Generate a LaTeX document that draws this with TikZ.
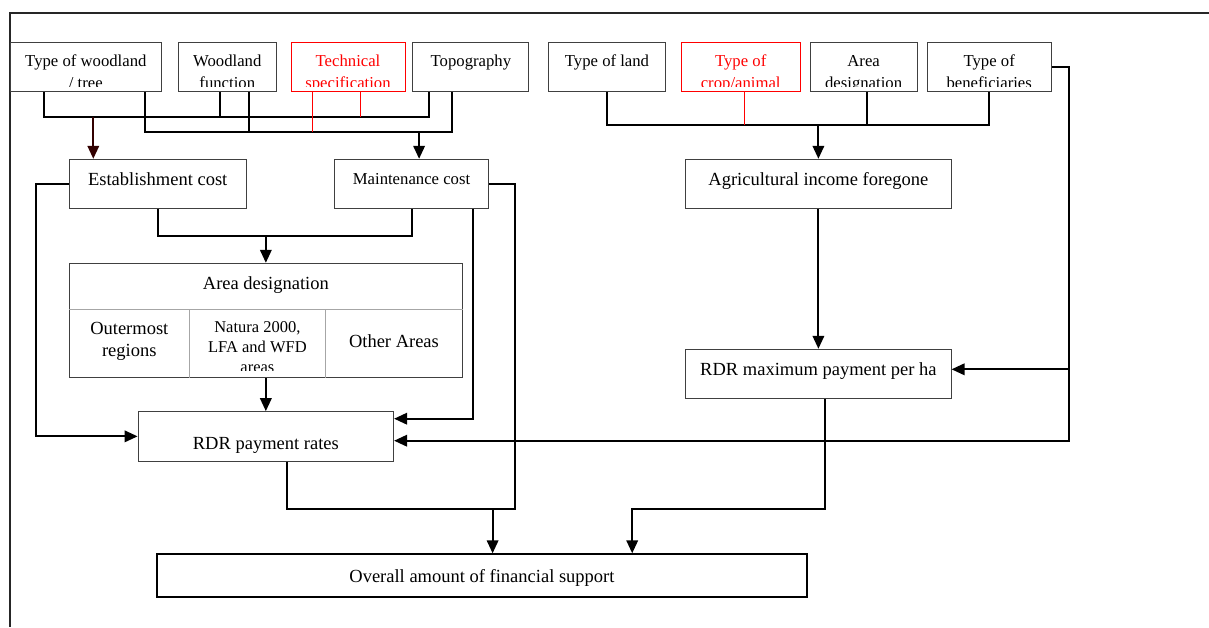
\documentclass[tikz,border=0pt]{standalone}
\usepackage{fontspec}
\setmainfont{Liberation Serif}
\usetikzlibrary{arrows.meta}

\colorlet{boxgray}{black!75}
\definecolor{techred}{RGB}{255,0,0}
\definecolor{darkbrown}{RGB}{50,0,0}

\newcommand{\bigfont}{\fontsize{18.5}{21.7}\selectfont}
\newcommand{\topfont}{\fontsize{16.7}{20}\selectfont}
\newcommand{\smallfont}{\fontsize{16.5}{20}\selectfont}

\tikzset{
  box/.style={draw=boxgray, line width=1pt, inner sep=0pt, font=\bigfont, minimum height=49.4pt},
  topbox/.style={draw=boxgray, line width=1pt, inner sep=0pt, minimum height=49pt},
  cut/.style 2 args={path picture={
    \clip (path picture bounding box.north west) rectangle ([yshift=5.7pt]path picture bounding box.south east);
    \node[draw=none, inner sep=0pt, anchor=base, font=\topfont] at ([yshift=-24pt]path picture bounding box.north) {#1};
    \node[draw=none, inner sep=0pt, anchor=base, font=\topfont] at ([yshift=-45.3pt]path picture bounding box.north) {#2};}},
  link/.style={line width=2pt},
  arr/.style={line width=2pt, -{Triangle[length=13pt,width=11.5pt]}},
  redlink/.style={line width=1pt, techred},
}

\begin{document}
\begin{tikzpicture}[x=1pt, y=-1pt]
\useasboundingbox (0,0) rectangle (1209,627);
\draw[line width=1.8pt, black!85] (1209,13) -- (9.6,13) -- (9.6,627);

\node[topbox, minimum width=150.3pt, cut={Type of woodland}{/ tree}] (wood) at (85.85,67.2) {};
\node[topbox, minimum width=97.8pt, cut={Woodland}{function}] (wfun) at (227.3,67.2) {};
\node[topbox, draw=techred, minimum width=114pt, cut={\color{techred}Technical}{\color{techred}specification}] (tech) at (348,67.2) {};
\node[topbox, minimum width=116pt, cut={Topography}{}] (topo) at (470.9,67.2) {};
\node[topbox, minimum width=117.5pt, cut={Type of land}{}] (land) at (607,67.2) {};
\node[topbox, draw=techred, minimum width=118.8pt, cut={\color{techred}Type of}{\color{techred}crop/animal}] (crop) at (740.7,67.2) {};
\node[topbox, minimum width=107.2pt, cut={Area}{designation}] (adesig) at (863.6,67.2) {};
\node[topbox, minimum width=124.1pt, cut={Type of}{beneficiaries}] (benef) at (989.2,67.2) {};

\node[box, minimum width=177pt, text height=13pt, text depth=10.4pt] (est) at (157.7,184) {Establishment cost};
\node[box, minimum width=153.6pt, font=\topfont, text height=12pt, text depth=11pt] (maint) at (411.5,184) {Maintenance cost};
\node[box, minimum width=265.3pt, text height=13pt, text depth=11pt] (agri) at (818.4,184) {Agricultural income foregone};
\node[box, minimum width=393.3pt, minimum height=114.4pt] (area) at (265.85,320.5) {};
\node[box, minimum width=265.3pt, text height=13pt, text depth=10.4pt] (rdrmax) at (818.4,374) {RDR maximum payment per ha};
\node[box, minimum width=255.5pt, text height=31pt, text depth=4pt] (rdr) at (265.85,436.35) {RDR payment rates};
\node[box, draw=black, line width=2pt, minimum width=649.5pt, minimum height=42.4pt, text height=18pt, text depth=4pt] (overall) at (481.95,575.5) {Overall amount of financial support};

\draw[gray!70, line width=0.8pt] (area.west |- 0,309.3) -- (area.east |- 0,309.3);
\draw[gray!70, line width=0.8pt] (189.4,0 |- area.south) -- (189.4,309.3);
\draw[gray!70, line width=0.8pt] (325.4,0 |- area.south) -- (325.4,309.3);
\node[anchor=base, inner sep=0pt, font=\bigfont] (areahead) at (265.85,289.3) {Area designation};
\node[align=center, inner sep=0pt, font=\bigfont] (outer) at (129.3,341.5) {Outermost\\regions};
\begin{scope}
\clip (189.4,309.3) rectangle (325.4,370.7);
\node[align=center, inner sep=0pt, font=\smallfont] (natura) at (257.4,347.5) {Natura 2000,\\LFA and WFD\\areas};
\end{scope}
\node[anchor=base, inner sep=0pt, font=\bigfont] (other) at (393.95,347.7) {Other Areas};

\coordinate (estbus) at (93.3,116.7);
\coordinate (maintbus) at (419.1,132);
\coordinate (agribus) at (818.4,125.3);
\coordinate (costjoin) at (265.85,236);
\coordinate (leftjoin) at (492.6,509);
\coordinate (rightjoin) at (632.2,509);
\coordinate (benefdrop) at (1068.5,369.3);

\draw[link] (44,0 |- wood.south) |- (429.4,116.7) -- (429.4,0 |- topo.south);
\draw[link] (219.7,0 |- wfun.south) -- (219.7,116.7);
\draw[link] (145,0 |- wood.south) |- (452.1,132) -- (452.1,0 |- topo.south);
\draw[link] (248.6,0 |- wfun.south) -- (248.6,132);
\draw[redlink] (360.5,0 |- tech.south) -- (360.5,116.7);
\draw[redlink] (312.7,0 |- tech.south) -- (312.7,132);
\draw[arr, darkbrown] (estbus) -- (estbus |- est.north);
\draw[arr] (maintbus) -- (maintbus |- maint.north);

\draw[link] (607,0 |- land.south) |- (989.4,125.3) -- (989.4,0 |- benef.south);
\draw[link] (866.6,0 |- adesig.south) -- (866.6,125.3);
\draw[redlink] (744.3,0 |- crop.south) -- (744.3,125.3);
\draw[arr] (agribus) -- (agri.north);

\draw[arr] (est.west) -- ++(-33,0) |- (rdr.west);
\draw[link] (est.south) |- (costjoin) -| (maint.south);
\draw[arr] (costjoin) -- (area.north);
\draw[arr] (area.south) -- (rdr.north);
\draw[arr] ([xshift=-16pt]maint.south east) |- (rdr.east |- 0,418.7);
\draw[link] ([xshift=20.75pt]rdr.south) |- (514.5,509) |- (maint.east);
\draw[arr] (leftjoin) -- (leftjoin |- overall.north);

\draw[arr] (agri.south) -- (rdrmax.north);
\draw[arr] ([xshift=6.3pt]rdrmax.south) |- (rightjoin) -- (rightjoin |- overall.north);
\draw[arr] (benef.east) -| (1068.5,440.7) -- (rdr.east |- 0,440.7);
\draw[arr] (benefdrop) -- (rdrmax.east |- benefdrop);
\end{tikzpicture}
\end{document}
